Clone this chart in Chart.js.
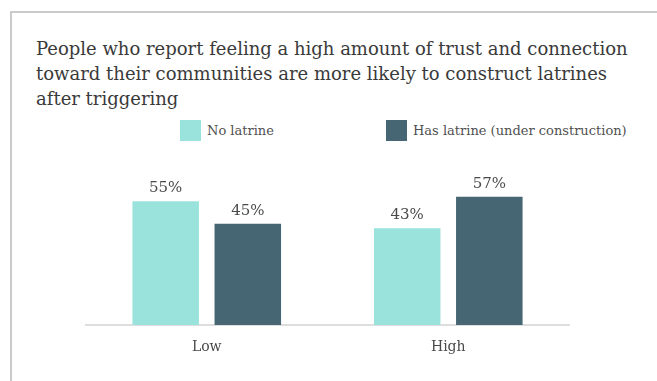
<!DOCTYPE html>
<html>
<head>
<meta charset="utf-8">
<script src="https://cdn.jsdelivr.net/npm/chart.js@4"></script>
<style>
  body { margin: 0; width: 657px; height: 381px; overflow: hidden; background: #fff; position: relative; }
  .frame { position: absolute; left: 10px; top: 11px; width: 700px; height: 400px; border-left: 2px solid #cacaca; border-top: 2px solid #cacaca; }
  #title { position: absolute; left: 36px; top: 36px; font: 18px "DejaVu Serif"; line-height: 25px; color: #3a3a3a; white-space: nowrap; }
  .leg { position: absolute; top: 120px; display: flex; align-items: center; font: 13px "DejaVu Serif"; color: #505050; }
  .leg span.box { width: 21px; height: 21px; margin-right: 6px; }
  canvas { position: absolute; left: 0; top: 0; }
</style>
</head>
<body>
<div class="frame"></div>
<div id="title">People who report feeling a high amount of trust and connection<br>toward their communities are more likely to construct latrines<br>after triggering</div>
<div id="legendBox"></div>
<canvas id="chart" width="657" height="381"></canvas>
<script>
// data
const categories = ['Low', 'High'];
const seriesNames = ['No latrine', 'Has latrine (under construction)'];
const noLatrine = [55, 43];
const hasLatrine = [45, 57];
const colors = ['#9ae3dc', '#456672'];
const legendX = [180, 386];

// legend (html, built from the series names)
const legendBox = document.getElementById('legendBox');
legendBox.innerHTML = seriesNames.map((n, i) =>
  `<div class="leg" style="left:${legendX[i]}px"><span class="box" style="background:${colors[i]}"></span>${n}</div>`
).join('');

// value labels above each bar
const valueLabels = {
  id: 'valueLabels',
  afterDatasetsDraw(chart) {
    const ctx = chart.ctx;
    ctx.save();
    ctx.font = '15px "DejaVu Serif"';
    ctx.fillStyle = '#4a4a4a';
    ctx.textAlign = 'center';
    ctx.textBaseline = 'middle';
    chart.data.datasets.forEach((ds, i) => {
      chart.getDatasetMeta(i).data.forEach((bar, j) => {
        ctx.fillText(ds.data[j] + '%', bar.x, bar.y - 13);
      });
    });
    ctx.restore();
  }
};

new Chart(document.getElementById('chart'), {
  type: 'bar',
  data: {
    labels: categories,
    datasets: [
      { label: seriesNames[0], data: noLatrine, backgroundColor: colors[0] },
      { label: seriesNames[1], data: hasLatrine, backgroundColor: colors[1] }
    ]
  },
  options: {
    responsive: false,
    animation: false,
    categoryPercentage: 0.68,
    barPercentage: 0.81,
    layout: { padding: { left: 86, right: 88, top: 190, bottom: 0 } },
    plugins: { legend: { display: false }, tooltip: { enabled: false } },
    scales: {
      y: { display: false, min: 0, max: 60 },
      x: {
        grid: { display: false, drawTicks: false },
        border: { display: true, color: '#dedede', width: 2 },
        ticks: { color: '#4a4a4a', font: { family: 'DejaVu Serif', size: 14 }, padding: 14 },
        afterFit: s => { s.height = 56; }
      }
    }
  },
  plugins: [valueLabels]
});
</script>
</body>
</html>
